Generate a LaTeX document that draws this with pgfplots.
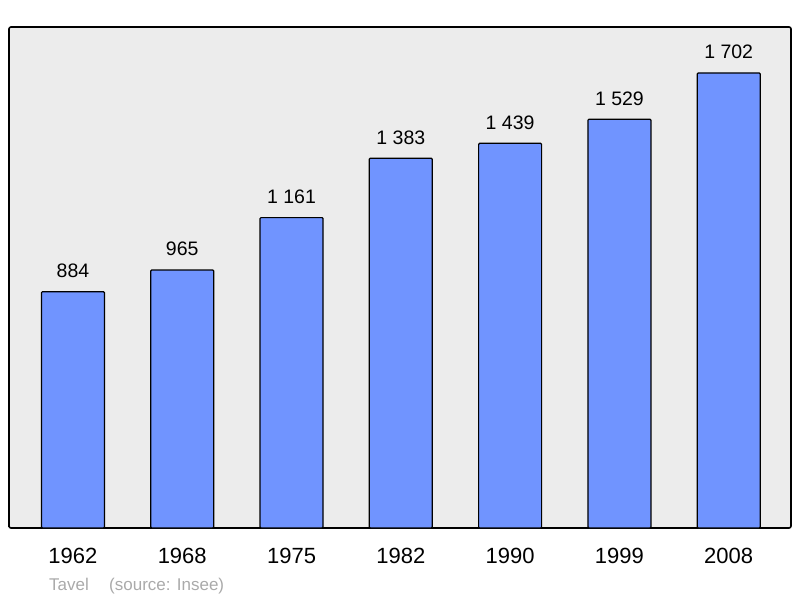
\documentclass[border=0pt]{standalone}
\usepackage{pgfplots}
\pgfplotsset{compat=1.18}
\usepackage{fontspec}
\setmainfont{Liberation Sans}
\definecolor{barblue}{HTML}{7094FF}
\definecolor{bggray}{HTML}{ECECEC}
\definecolor{footgray}{HTML}{AAAAAA}
\begin{document}
\begin{tikzpicture}[x=1pt,y=1pt]
\begin{axis}[
  at={(0pt,0pt)}, anchor=south west,
  scale only axis, width=782pt, height=501pt,
  xmin=-0.585, xmax=6.57, ymin=0, ymax=1874,
  axis background/.style={fill=bggray},
  axis line style={line width=1.6pt, rounded corners=2pt},
  ytick=\empty,
  xtick=data,
  xticklabels={1962,1968,1975,1982,1990,1999,2008},
  major tick length=0pt,
  xticklabel style={font=\fontsize{22}{24}\selectfont, yshift=-17pt},
  ybar, bar width=63pt,
  point meta=explicit symbolic,
  nodes near coords,
  nodes near coords style={font=\fontsize{19.5}{22}\selectfont, yshift=10pt},
]
\addplot[fill=barblue, draw=black, line width=1.2pt, rounded corners=1pt] coordinates {
  (0,884) [884]
  (1,965) [965]
  (2,1161) [1 161]
  (3,1383) [1 383]
  (4,1439) [1 439]
  (5,1529) [1 529]
  (6,1702) [1 702]
};
\end{axis}
\node[anchor=base west, text=footgray, font=\fontsize{17}{19}\selectfont, inner sep=0pt] at (40pt,-62pt) {Tavel};
\node[anchor=base west, text=footgray, font=\fontsize{17}{19}\selectfont, inner sep=0pt] at (100pt,-62pt) {(source: Insee)};
\useasboundingbox (-9pt,-70pt) rectangle (791pt,528pt);
\end{tikzpicture}
\end{document}
